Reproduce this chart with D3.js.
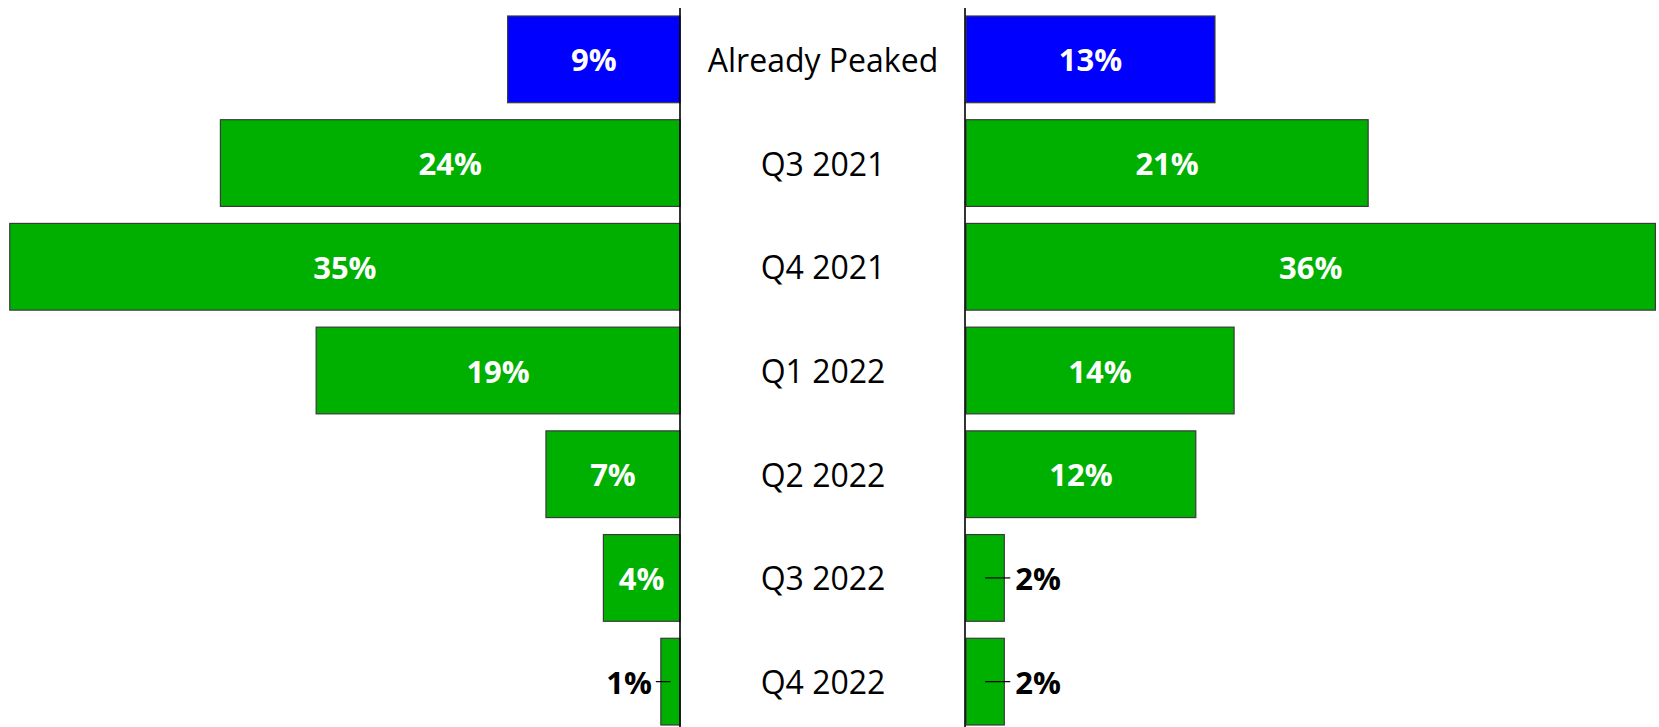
<!DOCTYPE html>
<html>
<head>
<meta charset="utf-8">
<script src="https://cdn.jsdelivr.net/npm/d3@7"></script>
<style>
  html, body { margin: 0; padding: 0; background: #fff; }
  svg { display: block; }
</style>
</head>
<body>
<svg id="chart" width="1659" height="727"></svg>
<script>
const categories = ["Already Peaked", "Q3 2021", "Q4 2021", "Q1 2022", "Q2 2022", "Q3 2022", "Q4 2022"];
const leftValues = [9, 24, 35, 19, 7, 4, 1];
const rightValues = [13, 21, 36, 14, 12, 2, 2];
const barColors = ["#0000FF", "#00B000", "#00B000", "#00B000", "#00B000", "#00B000", "#00B000"];

const W = 1659, H = 727;
const svg = d3.select("#chart");
const font = "'Open Sans', 'DejaVu Sans', sans-serif";

const leftAxisX = 680, rightAxisX = 966;
const pxPerUnit = 19.15;
const xLeft = d3.scaleLinear().domain([0, 36]).range([leftAxisX, leftAxisX - 36 * pxPerUnit]);
const xRight = d3.scaleLinear().domain([0, 36]).range([rightAxisX, rightAxisX + 36 * pxPerUnit]);
const y = d3.scaleBand().domain(categories).range([16, 725]).paddingInner(0.164).paddingOuter(0);

const rows = categories.map((c, i) => ({ c, l: leftValues[i], r: rightValues[i], color: barColors[i] }));

// Left bars
svg.append("g").selectAll("rect").data(rows).join("rect")
  .attr("x", d => xLeft(d.l))
  .attr("y", d => y(d.c))
  .attr("width", d => xLeft(0) - xLeft(d.l))
  .attr("height", y.bandwidth())
  .attr("fill", d => d.color)
  .attr("stroke", "#3a3a3a")
  .attr("stroke-width", 1.2);

// Right bars
svg.append("g").selectAll("rect").data(rows).join("rect")
  .attr("x", d => xRight(0))
  .attr("y", d => y(d.c))
  .attr("width", d => xRight(d.r) - xRight(0))
  .attr("height", y.bandwidth())
  .attr("fill", d => d.color)
  .attr("stroke", "#3a3a3a")
  .attr("stroke-width", 1.2);

// Axis lines
svg.append("line").attr("x1", leftAxisX).attr("x2", leftAxisX).attr("y1", 8).attr("y2", H)
  .attr("stroke", "#000").attr("stroke-width", 1.6);
svg.append("line").attr("x1", rightAxisX - 1).attr("x2", rightAxisX - 1).attr("y1", 8).attr("y2", H)
  .attr("stroke", "#000").attr("stroke-width", 1.6);

// Category labels
svg.append("g").selectAll("text").data(rows).join("text")
  .attr("x", (leftAxisX + rightAxisX) / 2)
  .attr("y", d => y(d.c) + y.bandwidth() / 2)
  .attr("text-anchor", "middle")
  .attr("dominant-baseline", "central")
  .attr("font-family", font)
  .attr("font-size", 32)
  .attr("fill", "#000")
  .text(d => d.c);

const threshold = 3;
const valueFontSize = 31;

// Left value labels
const lg = svg.append("g");
rows.forEach(d => {
  const cy = y(d.c) + y.bandwidth() / 2;
  if (d.l >= threshold) {
    lg.append("text")
      .attr("x", (xLeft(d.l) + xLeft(0)) / 2)
      .attr("y", cy)
      .attr("text-anchor", "middle").attr("dominant-baseline", "central")
      .attr("font-family", font).attr("font-weight", "bold").attr("font-size", valueFontSize)
      .attr("fill", "#fff").text(d.l + "%");
  } else {
    const edge = xLeft(d.l);
    lg.append("line")
      .attr("x1", (xLeft(d.l) + xLeft(0)) / 2).attr("x2", edge - 5)
      .attr("y1", cy).attr("y2", cy).attr("stroke", "#000").attr("stroke-width", 1.2);
    lg.append("text")
      .attr("x", edge - 9).attr("y", cy)
      .attr("text-anchor", "end").attr("dominant-baseline", "central")
      .attr("font-family", font).attr("font-weight", "bold").attr("font-size", valueFontSize)
      .attr("fill", "#000").text(d.l + "%");
  }
});

// Right value labels
const rg = svg.append("g");
rows.forEach(d => {
  const cy = y(d.c) + y.bandwidth() / 2;
  if (d.r >= threshold) {
    rg.append("text")
      .attr("x", (xRight(d.r) + xRight(0)) / 2)
      .attr("y", cy)
      .attr("text-anchor", "middle").attr("dominant-baseline", "central")
      .attr("font-family", font).attr("font-weight", "bold").attr("font-size", valueFontSize)
      .attr("fill", "#fff").text(d.r + "%");
  } else {
    const edge = xRight(d.r);
    rg.append("line")
      .attr("x1", (xRight(d.r) + xRight(0)) / 2).attr("x2", edge + 6)
      .attr("y1", cy).attr("y2", cy).attr("stroke", "#000").attr("stroke-width", 1.2);
    rg.append("text")
      .attr("x", edge + 11).attr("y", cy)
      .attr("text-anchor", "start").attr("dominant-baseline", "central")
      .attr("font-family", font).attr("font-weight", "bold").attr("font-size", valueFontSize)
      .attr("fill", "#000").text(d.r + "%");
  }
});
</script>
</body>
</html>
